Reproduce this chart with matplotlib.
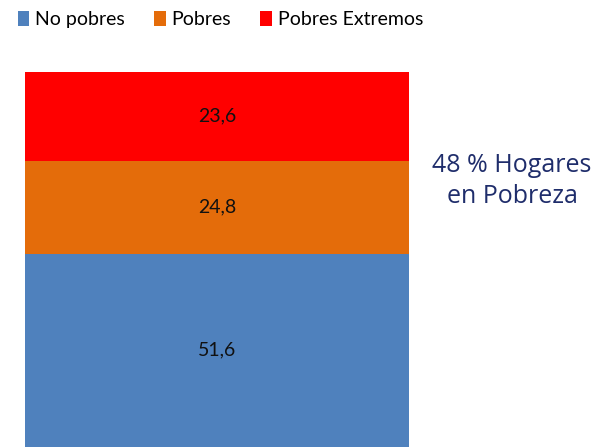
import matplotlib
matplotlib.use('Agg')
import matplotlib.pyplot as plt
from matplotlib.patches import Patch

categorias = ["No pobres", "Pobres", "Pobres Extremos"]
valores = [51.6, 24.8, 23.6]
colores = ["#4f81bd", "#e46c0a", "#ff0000"]
etiquetas = ["51,6", "24,8", "23,6"]
texto_pobreza = "48 % Hogares\nen Pobreza"

fig = plt.figure(figsize=(5.96, 4.47), dpi=100)
ax = fig.add_axes([25 / 596, 0, 384 / 596, 375 / 447])

# barra apilada: no pobres abajo, extremos arriba
base = 0
for valor, color, etiqueta in zip(valores, colores, etiquetas):
    ax.bar(0, valor, bottom=base, width=1, color=color)
    ax.text(0, base + valor / 2, etiqueta, ha='center', va='center',
            fontsize=14, family='Lato', color='#111111')
    base += valor

ax.set_xlim(-0.5, 0.5)
ax.set_ylim(0, 100)
ax.axis('off')

handles = [Patch(facecolor=c, label=l) for c, l in zip(colores, categorias)]
fig.legend(handles=handles, loc='upper left', bbox_to_anchor=(0.0, 1.015),
           ncol=3, frameon=False, handlelength=0.6, handleheight=0.8,
           handletextpad=0.3, columnspacing=1.5,
           prop={'family': 'Lato', 'size': 14})

fig.text(512 / 596, 1 - 181 / 447, texto_pobreza, ha='center', va='center',
         color='#1f2d6b', fontsize=18, linespacing=1.3, family='Open Sans')

fig.savefig('out.png', dpi=100)
